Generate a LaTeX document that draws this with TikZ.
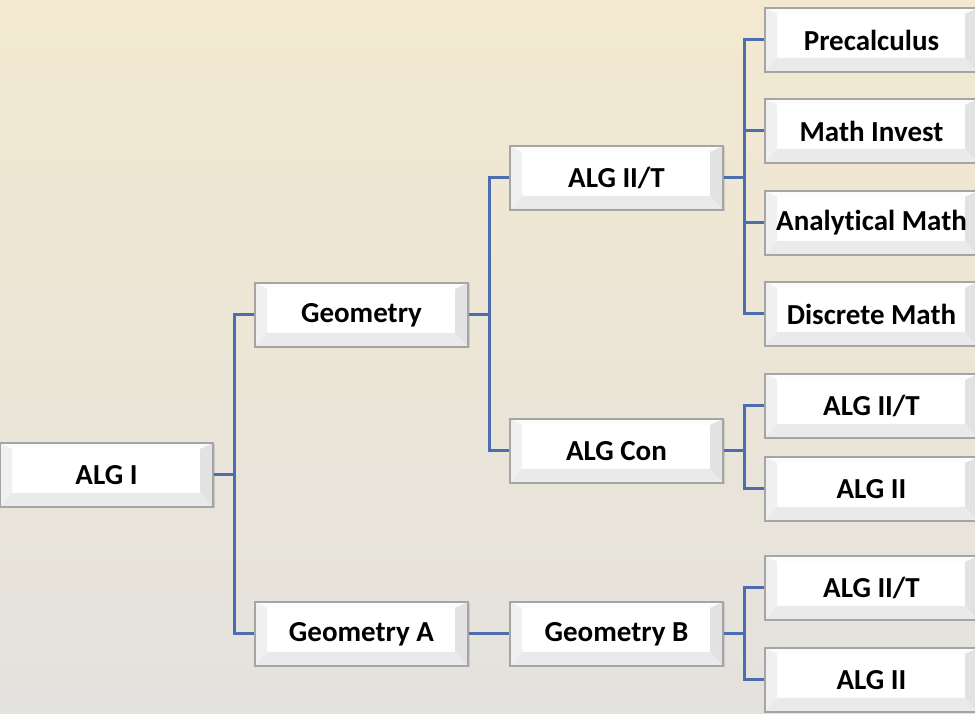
\documentclass[tikz,border=0pt]{standalone}
\usepackage{fontspec}
\setmainfont[Ligatures=NoCommon]{Carlito}
\usetikzlibrary{calc,shadows}

\definecolor{bgtop}{RGB}{243,233,208}
\definecolor{bgbottom}{RGB}{228,226,222}
\definecolor{linkblue}{RGB}{76,110,176}
\definecolor{boxedge}{RGB}{165,165,165}
\definecolor{bevtop}{RGB}{252,252,252}
\definecolor{bevleft}{RGB}{240,240,240}
\definecolor{bevright}{RGB}{226,226,226}
\definecolor{bevbottom}{RGB}{234,234,234}

\tikzset{
  course/.style={
    draw=boxedge, line width=1.2pt, fill=white,
    minimum width=213pt, minimum height=64pt, inner sep=0pt,
    font=\fontsize{29}{33}\selectfont\bfseries,
    drop shadow={shadow xshift=1.5pt, shadow yshift=-1.5pt, opacity=0.25},
    % bevelled button face
    path picture={
      \coordinate (bNW) at (path picture bounding box.north west);
      \coordinate (bNE) at (path picture bounding box.north east);
      \coordinate (bSE) at (path picture bounding box.south east);
      \coordinate (bSW) at (path picture bounding box.south west);
      \coordinate (iNW) at ($(bNW)+(12pt,-6pt)$);
      \coordinate (iNE) at ($(bNE)+(-13pt,-6pt)$);
      \coordinate (iSE) at ($(bSE)+(-13pt,14pt)$);
      \coordinate (iSW) at ($(bSW)+(12pt,14pt)$);
      \fill[bevtop] (bNW) -- (bNE) -- (iNE) -- (iNW) -- cycle;
      \fill[bevleft] (bNW) -- (iNW) -- (iSW) -- (bSW) -- cycle;
      \fill[bevright] (bNE) -- (bSE) -- (iSE) -- (iNE) -- cycle;
      \fill[bevbottom] (bSW) -- (iSW) -- (iSE) -- (bSE) -- cycle;
    }
  },
  link/.style={draw=linkblue, line width=3pt}
}

\begin{document}
\begin{tikzpicture}[x=1pt,y=1pt]
  \useasboundingbox (0,0) rectangle (975,714);
  \clip (0,0) rectangle (975,714);
  \shade[top color=bgtop, bottom color=bgbottom] (0,0) rectangle (975,714);

  % first and second year
  \node[course] (alg1)  at (106.5,239) {ALG I};
  \node[course] (geo)   at (361.5,399) {Geometry};
  \node[course] (geoA)  at (361.5,80)  {Geometry A};

  % third column
  \node[course] (alg2t) at (616.5,536) {ALG II/T};
  \node[course] (algc)  at (616.5,263) {ALG Con};
  \node[course] (geoB)  at (616.5,80)  {Geometry B};

  % fourth column
  \node[course] (pre)   at (871.5,674) {Precalculus};
  \node[course] (inv)   at (871.5,583) {Math Invest};
  \node[course] (ana)   at (871.5,491) {Analytical Math};
  \node[course] (dis)   at (871.5,400) {Discrete Math};
  \node[course] (cA)    at (871.5,308) {ALG II/T};
  \node[course] (cB)    at (871.5,225) {ALG II};
  \node[course] (bA)    at (871.5,126) {ALG II/T};
  \node[course] (bB)    at (871.5,34)  {ALG II};

  % connectors
  \foreach \t in {geo,geoA}
    \draw[link] (alg1.east) -- ++(21,0) |- (\t.west);
  \foreach \t in {alg2t,algc}
    \draw[link] (geo.east) -- ++(21,0) |- (\t.west);
  \draw[link] (geoA.east) -- (geoB.west);
  \foreach \t in {pre,inv,ana,dis}
    \draw[link] (alg2t.east) -- ++(21,0) |- (\t.west);
  \foreach \t in {cA,cB}
    \draw[link] (algc.east) -- ++(21,0) |- (\t.west);
  \foreach \t in {bA,bB}
    \draw[link] (geoB.east) -- ++(21,0) |- (\t.west);
\end{tikzpicture}
\end{document}
